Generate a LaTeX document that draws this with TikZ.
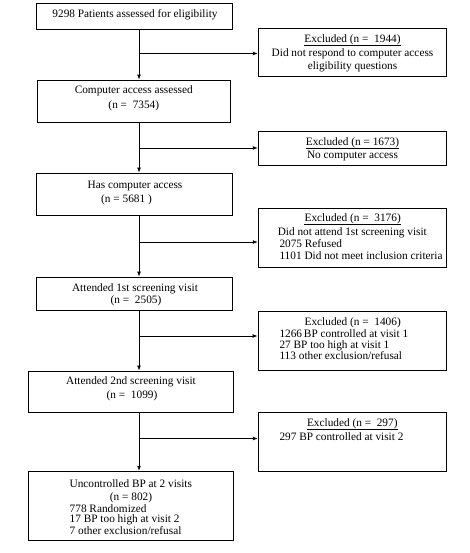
\documentclass[tikz,border=0pt]{standalone}
\usepackage{fontspec}
\setmainfont{Liberation Serif}
\usetikzlibrary{arrows.meta}
\begin{document}
\begin{tikzpicture}[x=1pt,y=-1pt,
  box/.style={draw,line width=0.8pt,inner sep=0pt,rectangle},
  txt/.style={inner sep=0pt,anchor=base,font=\fontsize{11.3}{13}\selectfont},
  ltxt/.style={txt,anchor=base west},
  uline/.style={line width=0.55pt},
  flow/.style={line width=0.9pt,-{Latex[length=5pt,width=4pt]}}]
\useasboundingbox (0,0) rectangle (469,553);
% boxes
\node[box,minimum width=196pt,minimum height=26pt] (b1) at (134.5,16.3) {};
\node[box,minimum width=188.5pt,minimum height=48pt] (e1) at (352.5,52.5) {};
\node[box,minimum width=193pt,minimum height=42pt] (b2) at (133.5,101) {};
\node[box,minimum width=188.5pt,minimum height=34pt] (e2) at (352.5,148) {};
\node[box,minimum width=196pt,minimum height=42pt] (b3) at (134.5,194) {};
\node[box,minimum width=188.5pt,minimum height=59pt] (e3) at (352.5,237.5) {};
\node[box,minimum width=196pt,minimum height=33pt] (b4) at (134.5,293.5) {};
\node[box,minimum width=188pt,minimum height=59pt] (e4) at (352,340.5) {};
\node[box,minimum width=205pt,minimum height=41pt] (b5) at (130.8,391.5) {};
\node[box,minimum width=188.5pt,minimum height=59pt] (e5) at (352.5,442.3) {};
\node[box,minimum width=205pt,minimum height=69.5pt] (b6) at (130.8,506) {};
% texts
\node[txt] (t1) at (135,18) {9298 Patients assessed for eligibility};
\node[txt] (t2) at (352.5,42.5) {Excluded (n = \ 1944)};
\node[txt] (t3) at (352.5,56.5) {Did not respond to computer access};
\node[txt] (t4) at (352.5,70) {eligibility questions};
\node[txt] (t5) at (133.8,94) {Computer access assessed};
\node[txt] (t6) at (133.8,108.5) {(n = \ 7354)};
\node[txt] (t7) at (352.5,145.5) {Excluded (n = 1673)\ };
\node[txt] (t8) at (352.5,159) {No computer access};
\node[txt] (t9) at (135,188.5) {Has computer access};
\node[txt] (t10) at (126.5,202) {(n = 5681 )};
\node[txt] (t11) at (352.7,222) {Excluded (n = \ 3176)};
\node[txt] (t12) at (352.3,235.5) {Did not attend 1st screening visit};
\node[ltxt] (t13) at (279.3,247.5) {2075 Refused};
\node[ltxt] (t14) at (279.3,259) {1101 Did not meet inclusion criteria};
\node[txt] (t15) at (135,291) {Attended 1st screening visit};
\node[txt] (t16) at (136,303.5) {(n = \ 2505)};
\node[txt] (t17) at (352.7,325) {Excluded (n = \ 1406)};
\node[ltxt] (t18) at (279.3,337.5) {1266\,BP controlled at visit 1};
\node[ltxt] (t19) at (279.3,348) {27 BP too high at visit 1};
\node[ltxt] (t20) at (279.3,359) {113 other exclusion/refusal};
\node[txt] (t21) at (131,384.5) {Attended 2nd screening visit};
\node[txt] (t22) at (132,398) {(n = \ 1099)};
\node[txt] (t23) at (352.3,426.5) {Excluded (n = \ 297)};
\node[ltxt] (t24) at (279.3,440) {297 BP controlled at visit 2};
\node[txt] (t25) at (130.8,487) {Uncontrolled BP at 2 visits};
\node[txt] (t26) at (131,500.5) {(n = 802)};
\node[ltxt] (t27) at (69.5,512) {778 Randomized};
\node[ltxt] (t28) at (69.5,522.5) {17 BP too high at visit 2};
\node[ltxt] (t29) at (69.5,534) {7 other exclusion/refusal};
% underlines
\draw[uline] ([yshift=-2.6pt]t2.base west) -- ([yshift=-2.6pt]t2.base east);
\draw[uline] ([yshift=-2.6pt]t7.base west) -- ([yshift=-2.6pt]t7.base east);
\draw[uline] ([yshift=-2.6pt]t11.base west) -- ([yshift=-2.6pt]t11.base east);
\draw[uline] ([yshift=-2.6pt]t23.base west) -- ([yshift=-2.6pt]t23.base east);
% connectors
\coordinate (sx) at (139,0);
\coordinate (j1) at (139,53.5);
\coordinate (j2) at (139,148);
\coordinate (j3) at (139,242);
\coordinate (j4) at (139,336);
\coordinate (j5) at (139,438.5);
\draw[flow] (b1.south -| sx) -- (b2.north -| sx);
\draw[flow] (b2.south -| sx) -- (b3.north -| sx);
\draw[flow] (b3.south -| sx) -- (b4.north -| sx);
\draw[flow] (b4.south -| sx) -- (b5.north -| sx);
\draw[flow] (b5.south -| sx) -- (b6.north -| sx);
\draw[flow] (j1) -- (j1 -| e1.west);
\draw[flow] (j2) -- (j2 -| e2.west);
\draw[flow] (j3) -- (j3 -| e3.west);
\draw[flow] (j4) -- (j4 -| e4.west);
\draw[flow] (j5) -- (j5 -| e5.west);
\end{tikzpicture}
\end{document}
